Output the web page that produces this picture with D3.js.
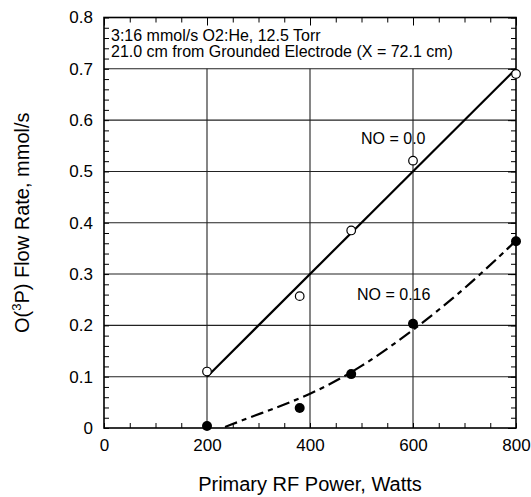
<!DOCTYPE html>
<html>
<head>
<title>O(3P) Flow Rate</title>
<style>
body { margin: 0; background: #fff; }
text { font-family: "Liberation Sans", Arial, sans-serif; fill: #000; }
</style>
<script type="text/javascript" src="https://d3js.org/d3.v7.min.js"></script>
</head>
<body>
<svg id="chart" width="531" height="497"></svg>
<script type="text/javascript">
// values
const xTicks = [0, 200, 400, 600, 800];
const yTicks = [0, 0.1, 0.2, 0.3, 0.4, 0.5, 0.6, 0.7, 0.8];
const xGrid = [200, 400, 600];
const yGrid = [0.1, 0.2, 0.3, 0.4, 0.5, 0.6, 0.7];

const powerOpen = [200, 380, 480, 600, 800];
const flowOpen = [0.11, 0.257, 0.385, 0.521, 0.69];
const powerFilled = [200, 380, 480, 600, 800];
const flowFilled = [0.004, 0.039, 0.105, 0.203, 0.364];

const fitOpenX = [200, 800];
const fitOpenY = [0.1, 0.7];
const fitFilledX = [235, 300, 400, 500, 600, 700, 800];
const fitFilledY = [0.002, 0.027, 0.064, 0.118, 0.19, 0.27, 0.365];

const notes = ["3:16 mmol/s O2:He, 12.5 Torr", "21.0 cm from Grounded Electrode (X = 72.1 cm)"];

const svg = d3.select("#chart");
const x = d3.scaleLinear().domain([0, 800]).range([104, 516]);
const y = d3.scaleLinear().domain([0, 0.8]).range([428, 17.5]);

const xMinor = d3.range(0, 801, 50);
const yMinor = d3.range(0, 41).map(i => i * 0.02);

// grid lines
svg.append("g")
   .selectAll("line.hg")
   .data(yGrid)
   .join("line")
   .attr("x1", x(0)).attr("x2", x(800))
   .attr("y1", d => y(d)).attr("y2", d => y(d))
   .style("stroke", "#222").style("stroke-width", 1.1);

svg.append("g")
   .selectAll("line.vg")
   .data(xGrid)
   .join("line")
   .attr("x1", d => x(d)).attr("x2", d => x(d))
   .attr("y1", y(0)).attr("y2", y(0.7))
   .style("stroke", "#222").style("stroke-width", 1.1);

// inward minor ticks on all four sides
function minorAxis(axis, transform) {
    const g = svg.append("g").attr("transform", transform).call(axis);
    g.select(".domain").remove();
    g.selectAll("line").style("stroke", "#000").style("stroke-width", 1);
    return g;
}
minorAxis(d3.axisBottom(x).tickValues(xMinor).tickSize(-5).tickFormat(""), `translate(0,${y(0)})`);
minorAxis(d3.axisTop(x).tickValues(xMinor).tickSize(-5).tickFormat(""), `translate(0,${y(0.8)})`);
minorAxis(d3.axisLeft(y).tickValues(yMinor).tickSize(-5).tickFormat(""), `translate(${x(0)},0)`);
minorAxis(d3.axisRight(y).tickValues(yMinor).tickSize(-5).tickFormat(""), `translate(${x(800)},0)`);
minorAxis(d3.axisTop(x).tickValues(xTicks).tickSize(-8).tickFormat(""), `translate(0,${y(0.8)})`);
minorAxis(d3.axisRight(y).tickValues(yTicks).tickSize(-8).tickFormat(""), `translate(${x(800)},0)`);

// tick labels
const xAxis = svg.append("g")
   .attr("transform", `translate(0,${y(0)})`)
   .call(d3.axisBottom(x).tickValues(xTicks).tickSize(0).tickPadding(11).tickFormat(d3.format("d")));
xAxis.select(".domain").remove();
xAxis.selectAll("text").style("font-size", "17px").style("font-family", "Liberation Sans, Arial, sans-serif");

const yAxis = svg.append("g")
   .attr("transform", `translate(${x(0)},0)`)
   .call(d3.axisLeft(y).tickValues(yTicks).tickSize(0).tickPadding(11).tickFormat(d => d === 0 ? "0" : d3.format(".1f")(d)));
yAxis.select(".domain").remove();
yAxis.selectAll("text").style("font-size", "17px").style("font-family", "Liberation Sans, Arial, sans-serif");

// frame
svg.append("rect")
   .attr("x", x(0)).attr("y", y(0.8))
   .attr("width", x(800) - x(0)).attr("height", y(0) - y(0.8))
   .style("fill", "none").style("stroke", "#000").style("stroke-width", 1.6);

// fits
const solid = d3.line().x(d => x(d[0])).y(d => y(d[1]));
svg.append("path")
   .datum(d3.zip(fitOpenX, fitOpenY))
   .attr("d", solid)
   .style("fill", "none").style("stroke", "#000").style("stroke-width", 2.2);

const curved = d3.line().x(d => x(d[0])).y(d => y(d[1])).curve(d3.curveBasis);
svg.append("path")
   .datum(d3.zip(fitFilledX, fitFilledY))
   .attr("d", curved)
   .style("fill", "none").style("stroke", "#000").style("stroke-width", 2.2)
   .style("stroke-dasharray", "13,5,5,5");

// points
svg.append("g")
   .selectAll("circle")
   .data(d3.zip(powerOpen, flowOpen))
   .join("circle")
   .attr("cx", d => x(d[0])).attr("cy", d => y(d[1])).attr("r", 4.3)
   .style("fill", "#fff").style("stroke", "#000").style("stroke-width", 1.2);

svg.append("g")
   .selectAll("circle")
   .data(d3.zip(powerFilled, flowFilled))
   .join("circle")
   .attr("cx", d => x(d[0])).attr("cy", d => y(d[1])).attr("r", 5)
   .style("fill", "#000");

// annotations
svg.append("g")
   .selectAll("text")
   .data(notes)
   .join("text")
   .attr("x", 111)
   .attr("y", (d, i) => 41 + i * 15.5)
   .style("font-size", "16px")
   .text(d => d);

svg.append("text").attr("x", 361).attr("y", 144).style("font-size", "16px").text("NO = 0.0");
svg.append("text").attr("x", 357).attr("y", 300).style("font-size", "16px").text("NO = 0.16");

// axis titles
svg.append("text")
   .attr("x", (x(0) + x(800)) / 2)
   .attr("y", 491)
   .attr("text-anchor", "middle")
   .style("font-size", "20px")
   .text("Primary RF Power, Watts");

const yTitle = svg.append("text")
   .attr("transform", `translate(29,${(y(0) + y(0.8)) / 2}) rotate(-90)`)
   .attr("text-anchor", "middle")
   .style("font-size", "20px");
yTitle.append("tspan").text("O(");
yTitle.append("tspan").attr("dy", -8).style("font-size", "13px").text("3");
yTitle.append("tspan").attr("dy", 8).text("P) Flow Rate, mmol/s");
</script>
</body>
</html>
